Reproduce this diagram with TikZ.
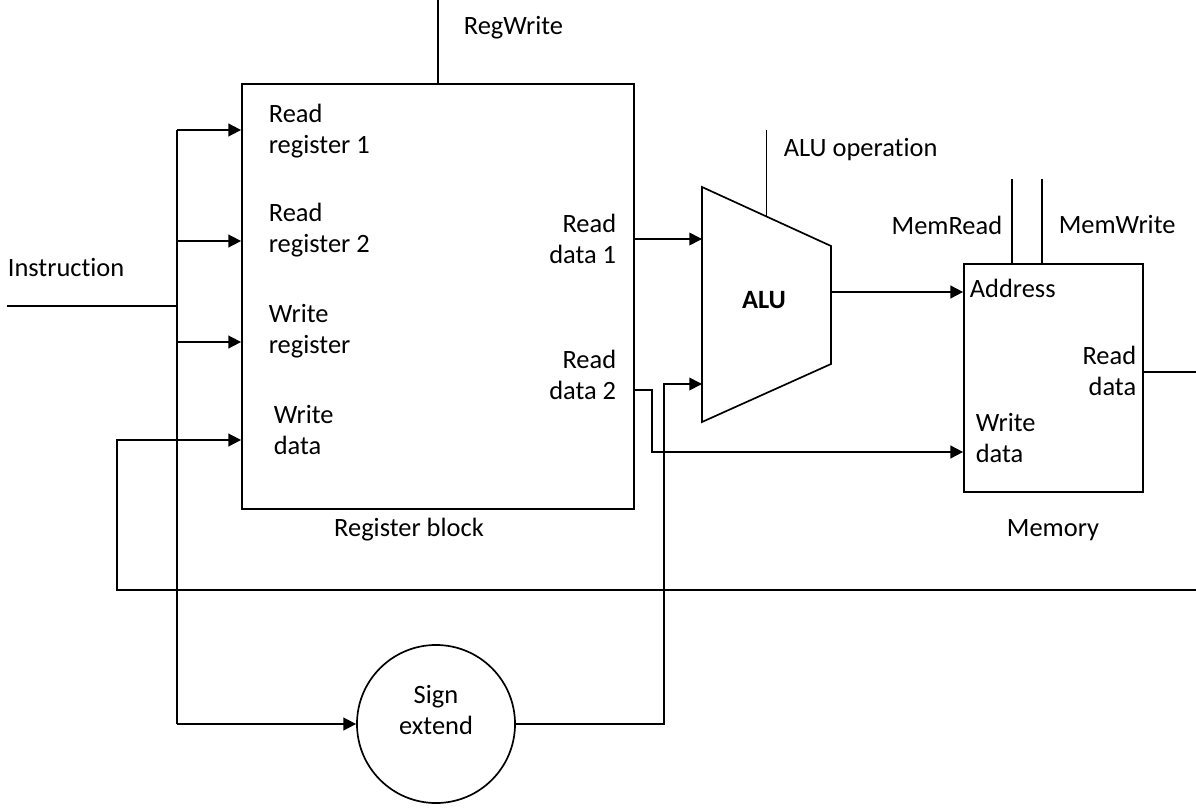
\documentclass[tikz,border=0pt]{standalone}
\usepackage{fontspec}
\setmainfont{Carlito}[Ligatures=NoCommon]
\usetikzlibrary{arrows.meta}
\usetikzlibrary{calc}
\usetikzlibrary{positioning}

\begin{document}
\begin{tikzpicture}[x=0.025cm,y=-0.025cm,>={Triangle[length=9pt,width=9pt]},
    line width=1.2pt,font=\fontsize{18.8}{22}\selectfont,
    block/.style={draw,rectangle,inner sep=0pt},
    lbl/.style={inner sep=0pt,align=left},
    rlbl/.style={inner sep=0pt,align=right}]
  \useasboundingbox (0,0) rectangle (1196,808);

  % blocks
  \node[block,minimum width=9.8cm,minimum height=10.625cm] (reg) at (438,296.5) {};
  \node[block,minimum width=4.475cm,minimum height=5.7cm] (mem) at (1053.5,378) {};
  \node[draw,circle,minimum size=3.95cm,inner sep=0pt,
    label={[align=center,yshift=0.35cm]center:Sign\\extend}] (sext) at (436,724) {};
  \coordinate (alu-tl) at (702,187);
  \coordinate (alu-tr) at (831,246);
  \coordinate (alu-br) at (831,364);
  \coordinate (alu-bl) at (702,422);
  \draw (alu-tl) -- (alu-tr) -- (alu-br) -- (alu-bl) -- cycle;
  \node[font=\fontsize{18.8}{22}\selectfont\bfseries] (alu) at (764,300) {ALU};

  % port labels
  \node[lbl,anchor=west] (rr1) at (268,131) {Read\\register 1};
  \node[lbl,anchor=west] (rr2) at (268,230) {Read\\register 2};
  \node[lbl,anchor=west] (wr) at (268,331) {Write\\register};
  \node[lbl,anchor=west] (wd) at (273,430) {Write\\data};
  \node[rlbl,anchor=east] (rd1) at (617,239) {Read\\data 1};
  \node[rlbl,anchor=east] (rd2) at (617,375) {Read\\data 2};
  \node[lbl,anchor=west] (addr) at (969,288) {Address};
  \node[rlbl,anchor=east] (mrd) at (1137,371) {Read\\data};
  \node[lbl,anchor=west] (mwd) at (975,438) {Write\\data};

  % outer labels
  \node[lbl,anchor=west] (instr) at (7,267) {Instruction};
  \node[lbl,anchor=west] (regwr) at (463,28) {RegWrite};
  \node[lbl,anchor=west] (aluopl) at (783,150) {ALU operation};
  \node[lbl,anchor=east] (memrd) at (1003,225) {MemRead};
  \node[lbl,anchor=west] (memwr) at (1058,225) {MemWrite};
  \node[lbl] (reglbl) at (409,530) {Register block};
  \node[lbl] (memlbl) at (1053,530) {Memory};

  % control lines
  \coordinate (aluop) at ($(alu-tl)!0.5!(alu-tr)$);
  \draw (reg.north) -- ++(0,-84);
  \draw (aluop) -- ++(0,-87);
  \foreach \x in {1012,1042}
    \draw (mem.north -| \x,0) -- ++(0,-84);

  % instruction bus
  \coordinate (iin) at (7,306);
  \coordinate (ibus) at (177,306);
  \coordinate (bse) at (177,724);
  \draw (iin) -- (ibus);
  \foreach \n/\y in {b1/130,b2/241,b3/342}{
    \coordinate (\n) at (177,\y);
    \draw[->] (\n) -- (\n -| reg.west);
  }
  \draw (b1) -- (bse);
  \draw[->] (bse) -- (sext.west);

  % write back
  \coordinate (fb) at (1196,590);
  \coordinate (wdin) at (117,440);
  \draw[->] (fb) -| (wdin) -- (wdin -| reg.west);

  % data paths
  \draw[->] (reg.east |- rd1) -- (alu-tl |- rd1);
  \coordinate (rd2o) at (634,390);
  \coordinate (rd2b) at (652,452);
  \draw[->] (rd2o) -| (rd2b) -- (rd2b -| mem.west);
  \coordinate (sxk) at (664,384);
  \draw[->] (sext.east) -| (sxk) -- (sxk -| alu-tl);
  \coordinate (aluout) at (831,292);
  \draw[->] (aluout) -- (aluout -| mem.west);
  \coordinate (mrdo) at (1196,372);
  \draw (mem.east |- mrdo) -- (mrdo);
\end{tikzpicture}
\end{document}
